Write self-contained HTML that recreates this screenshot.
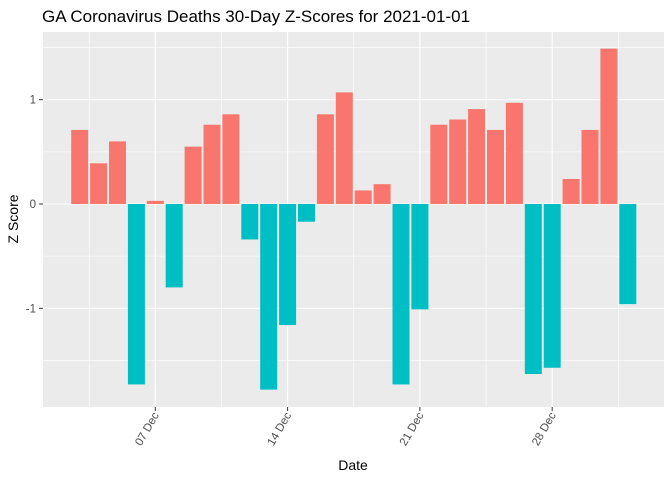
<!DOCTYPE html>
<html><head><meta charset="utf-8"><style>body{margin:0;background:#fff}svg{display:block;font-family:"Liberation Sans",Arial,sans-serif}</style></head>
<body>
<svg id="chart" width="672" height="480">
<text x="42" y="22" font-size="17" fill="#000">GA Coronavirus Deaths 30-Day Z-Scores for 2021-01-01</text>
<rect x="43" y="32" width="621" height="375" fill="#ebebeb"/>
<g id="grid"></g><g id="bars"></g><g id="axes"></g>
<text x="353" y="470" font-size="14" text-anchor="middle">Date</text>
<text transform="translate(18,219) rotate(-90)" font-size="14" text-anchor="middle">Z Score</text>
</svg>
<script>
const dates=["2020-12-03","2020-12-04","2020-12-05","2020-12-06","2020-12-07","2020-12-08","2020-12-09","2020-12-10","2020-12-11","2020-12-12","2020-12-13","2020-12-14","2020-12-15","2020-12-16","2020-12-17","2020-12-18","2020-12-19","2020-12-20","2020-12-21","2020-12-22","2020-12-23","2020-12-24","2020-12-25","2020-12-26","2020-12-27","2020-12-28","2020-12-29","2020-12-30","2020-12-31","2021-01-01"];
const zscores=[0.71,0.39,0.60,-1.73,0.03,-0.80,0.55,0.76,0.86,-0.34,-1.78,-1.16,-0.17,0.86,1.07,0.13,0.19,-1.73,-1.01,0.76,0.81,0.91,0.71,0.97,-1.63,-1.57,0.24,0.71,1.49,-0.96];
const xTickDates=["2020-12-07","2020-12-14","2020-12-21","2020-12-28"];
const xTickLabels=["07 Dec","14 Dec","21 Dec","28 Dec"];
const yTicks=[-1,0,1];
const yTickLabels=["-1","0","1"];
const NS="http://www.w3.org/2000/svg";
const day0=Date.parse("2020-12-07");
function x(d){return 155.3+(Date.parse(d)-day0)/86400000*18.9;}
function y(v){return 204-v*104.3;}
function mk(tag,attrs,parent){const e=document.createElementNS(NS,tag);for(const k in attrs)e.setAttribute(k,attrs[k]);document.getElementById(parent).appendChild(e);return e;}
// grid
for(let v=-1.5;v<=1.5;v+=0.5){const major=Number.isInteger(v);
 const l=mk('line',{x1:43,x2:664,y1:y(v),y2:y(v),stroke:'#fff','stroke-width':major?1.1:0.55},'grid');
 
 }
const xt=xTickDates.map(x);
const vx=[xt[0]-66.15].concat(...xt.map(p=>[p,p+66.15]));
vx.forEach((p,i)=>{const l=mk('line',{x1:p,x2:p,y1:32,y2:407,stroke:'#fff','stroke-width':i%2?1.1:0.55},'grid');
 
 });
// bars
dates.forEach((d,i)=>{const v=zscores[i];const cx=x(d);
 const r=mk('rect',{x:cx-8.5,width:17,y:Math.min(y(v),y(0)),height:Math.abs(y(v)-y(0)),fill:v>=0?'#f8766d':'#00bfc4'},'bars');
 
 });
// axes
yTicks.forEach((v,i)=>{mk('line',{x1:39,x2:43,y1:y(v),y2:y(v),stroke:'#333'},'axes');
 const t=mk('text',{x:36,y:y(v)+4,'font-size':11.5,'text-anchor':'end',fill:'#4d4d4d'},'axes');t.textContent=yTickLabels[i];
 
 });
xTickDates.forEach((d,i)=>{const p=x(d);mk('line',{x1:p,x2:p,y1:407,y2:411,stroke:'#333'},'axes');
 const t=mk('text',{transform:`translate(${p+4},415) rotate(-60)`,'font-size':11.5,'text-anchor':'end',fill:'#4d4d4d'},'axes');t.textContent=xTickLabels[i];
 
 });
</script>
</body></html>
